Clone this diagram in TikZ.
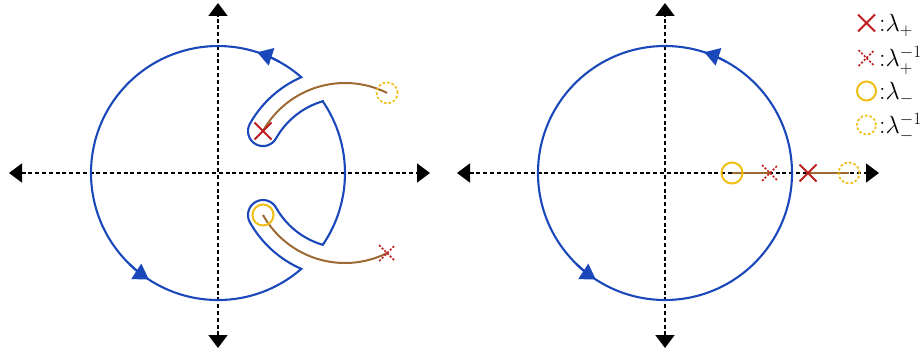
\documentclass[tikz,border=0pt]{standalone}
\usetikzlibrary{arrows.meta}
\definecolor{cblue}{RGB}{26,72,186}
\definecolor{cred}{RGB}{190,30,30}
\definecolor{cyellow}{RGB}{240,190,20}
\definecolor{cbrown}{RGB}{158,106,52}
\begin{document}
\begin{tikzpicture}[x=1pt,y=1pt,
  axisline/.style={line width=1.8pt, dash pattern=on 4pt off 2.8pt, {Triangle[length=13pt,width=19pt]}-{Triangle[length=13pt,width=19pt]}},
  contour/.style={draw=cblue, line width=2.1pt},
  dirtip/.style={cblue, line width=2.1pt, -{Triangle[length=15pt,width=18pt]}},
  cutline/.style={draw=cbrown, line width=2pt},
  solidx/.style={draw=cred, line width=2.1pt},
  dashx/.style={draw=cred, line width=1.7pt, dash pattern=on 2.2pt off 1.6pt},
  solido/.style={draw=cyellow, line width=2pt},
  dasho/.style={draw=cyellow, line width=1.7pt, dash pattern=on 2.6pt off 2pt},
  legtext/.style={anchor=base west, inner sep=0pt, font=\fontsize{26}{30}\selectfont},
  xsym/.pic={\draw[solidx] (-8.5,-8.5)--(8.5,8.5) (-8.5,8.5)--(8.5,-8.5);},
  xdsym/.pic={\draw[dashx] (-8,-8)--(8,8) (-8,8)--(8,-8);}
]
\useasboundingbox (0,0) rectangle (921,351);

% ---------------- left diagram ----------------
\begin{scope}[shift={(218,178)}]
  \coordinate (L1) at (-209,0);
  \coordinate (R1) at (212,0);
  \coordinate (T1) at (0,170);
  \coordinate (B1) at (0,-175);
  \draw[axisline] (L1) -- (R1);
  \draw[axisline] (B1) -- (T1);
  % keyhole contour
  \draw[contour] (34.4:127pt)
    arc[start angle=106.3, end angle=150.7, radius=79pt]
    arc[start angle=-29.3, end angle=-209.3, radius=15pt]
    arc[start angle=150.7, end angle=113.6, radius=109pt]
    arc[start angle=49, end angle=311, radius=127pt]
    arc[start angle=-113.6, end angle=-150.7, radius=109pt]
    arc[start angle=209.3, end angle=29.3, radius=15pt]
    arc[start angle=-150.7, end angle=-106.3, radius=79pt]
    arc[start angle=-34.4, end angle=34.4, radius=127pt] -- cycle;
  \draw[dirtip] (61:127pt) arc[start angle=61, end angle=72, radius=127pt];
  \draw[dirtip] (226:127pt) arc[start angle=226, end angle=237, radius=127pt];
  % branch cuts
  \coordinate (Xp) at (45,42);
  \coordinate (Om) at (45,-42);
  \coordinate (Oi) at (169.1,80.1);
  \coordinate (Xi) at (169.1,-80.1);
  \draw[cutline] (Xp) arc[start angle=150.7, end angle=63.4, radius=94pt];
  \draw[cutline] (Om) arc[start angle=-150.7, end angle=-63.4, radius=94pt];
  \pic at (Xp) {xsym};
  \draw[solido] (Om) circle[radius=10.5pt];
  \draw[dasho] (Oi) circle[radius=10.5pt];
  \pic at (Xi) {xdsym};
\end{scope}

% ---------------- right diagram ----------------
\begin{scope}[shift={(665,178)}]
  \coordinate (L2) at (-208,0);
  \coordinate (R2) at (214,0);
  \coordinate (T2) at (0,170);
  \coordinate (B2) at (0,-175);
  \draw[axisline] (L2) -- (R2);
  \draw[axisline] (B2) -- (T2);
  \draw[contour] (0,0) circle[radius=127pt];
  \draw[dirtip] (61:127pt) arc[start angle=61, end angle=72, radius=127pt];
  \draw[dirtip] (226:127pt) arc[start angle=226, end angle=237, radius=127pt];
  \coordinate (om2) at (67,0);
  \coordinate (xi2) at (105,0);
  \coordinate (xp2) at (143,0);
  \coordinate (oi2) at (184,0);
  \draw[cutline] (om2) -- (xi2);
  \draw[cutline] (xp2) -- (oi2);
  \draw[solido] (om2) circle[radius=10.5pt];
  \pic at (xi2) {xdsym};
  \pic at (xp2) {xsym};
  \draw[dasho] (oi2) circle[radius=10.5pt];
\end{scope}

% ---------------- legend ----------------
\coordinate (s1) at (866.5,328);
\coordinate (s2) at (866.5,293);
\coordinate (s3) at (866.5,260);
\coordinate (s4) at (866.5,226);
\pic at (s1) {xsym};
\pic at (s2) {xdsym};
\draw[solido] (s3) circle[radius=9.5pt];
\draw[dasho] (s4) circle[radius=9.5pt];
\node[legtext] (t1) at (879,319) {:$\lambda_+$};
\node[legtext] (t2) at (879,284) {:$\lambda_+^{-1}$};
\node[legtext] (t3) at (879,251) {:$\lambda_-$};
\node[legtext] (t4) at (879,217) {:$\lambda_-^{-1}$};
\end{tikzpicture}
\end{document}
